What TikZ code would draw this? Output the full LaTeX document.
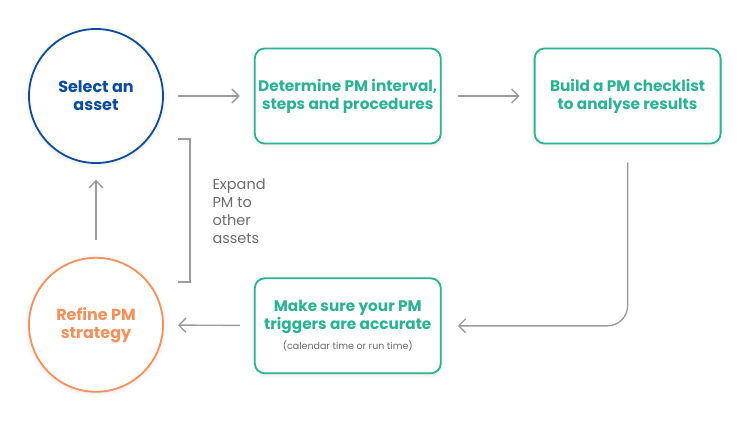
\documentclass[tikz,border=0pt]{standalone}
\usepackage{fontspec}
\setmainfont{Poppins}
\usetikzlibrary{arrows.meta,positioning,shadows.blur}
\definecolor{assetblue}{HTML}{0B4C9E}
\definecolor{stepteal}{HTML}{2AB294}
\definecolor{refineorange}{HTML}{F7905A}
\definecolor{linkgray}{HTML}{9C9C9C}
\definecolor{notegray}{HTML}{6B6B6B}

\begin{document}
\begin{tikzpicture}[
  x=1pt, y=1pt,
  soft/.style={blur shadow={shadow xshift=0pt, shadow yshift=-1pt, shadow blur radius=5pt, shadow opacity=12}},
  stage/.style={circle, line width=1.8pt, fill=white, minimum size=134pt, inner sep=0pt,
    align=center, font=\fontsize{16}{18}\selectfont\bfseries, soft},
  stepbox/.style={draw=stepteal, fill=white, line width=1.8pt, rounded corners=10pt,
    minimum width=186pt, minimum height=95pt, inner xsep=0pt, align=center, text=stepteal,
    font=\fontsize{15.3}{18}\selectfont\bfseries, soft},
  arrow/.style={-{Straight Barb[length=7pt, width=14pt]}, line width=1.4pt, linkgray},
  note/.style={align=left, text=notegray, font=\fontsize{14.5}{18}\selectfont}
]
  \useasboundingbox (0,0) rectangle (750,421);

  \node[stage, draw=assetblue, text=assetblue] (select) at (96,325) {Select an\\asset};
  \node[stepbox, right=90pt of select] (determine) {Determine PM interval,\\steps and procedures};
  \node[stepbox, right=92pt of determine] (build) {Build a PM checklist\\to analyse results};
  \node[stepbox, below=133pt of determine] (triggers) {Make sure your PM\\triggers are accurate\\[2pt]
    {\fontsize{9.5}{11}\selectfont\mdseries\color{notegray}(calendar time or run time)}};
  \node[stage, draw=refineorange, text=refineorange, below=93pt of select] (refine) {Refine PM\\strategy};

  \draw[arrow, shorten <=14pt, shorten >=14pt] (select) -- (determine);
  \draw[arrow, shorten <=16pt, shorten >=14pt] (determine) -- (build);
  \draw[arrow, rounded corners=20pt, shorten <=18pt, shorten >=16pt] (build.south) |- (triggers.east);
  \draw[arrow, shorten <=14pt, shorten >=14pt] (triggers) -- (refine);
  \draw[arrow, shorten <=17pt, shorten >=16pt] (refine) -- (select);

  % bracket for the loop back
  \draw[linkgray, line width=1.4pt] (178,139) -- (190,139) -- (190,282) -- (178,282);
  \node[note, anchor=west] (expand) at (209,210) {Expand\\PM to\\other\\assets};
\end{tikzpicture}
\end{document}
